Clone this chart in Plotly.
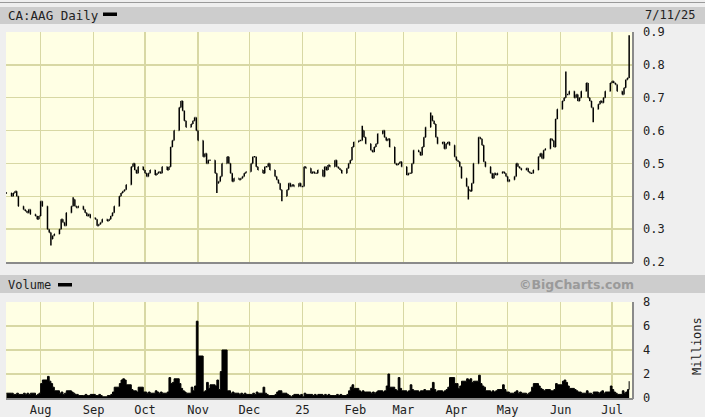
import pandas as pd
import plotly.graph_objects as go

# ---------------- data ----------------
close_jul24 = [0.41, 0.40, 0.41, 0.415, 0.40, 0.37, 0.36, 0.355, 0.35, 0.36, 0.345, 0.34, 0.33, 0.34]
close_aug24 = [0.385, 0.37, 0.30, 0.29, 0.27, 0.28, 0.285, 0.30, 0.33, 0.32, 0.31, 0.35, 0.37, 0.39,
               0.37, 0.365, 0.37, 0.36, 0.35, 0.34, 0.345, 0.335]
close_sep24 = [0.33, 0.31, 0.315, 0.32, 0.33, 0.325, 0.33, 0.34, 0.35, 0.37, 0.40, 0.41, 0.415, 0.42,
               0.435, 0.49, 0.50, 0.48, 0.47, 0.49, 0.48]
close_oct24 = [0.47, 0.46, 0.47, 0.48, 0.465, 0.47, 0.475, 0.47, 0.49, 0.48, 0.49, 0.55, 0.57, 0.60,
               0.67, 0.69, 0.66, 0.63, 0.61, 0.62, 0.63, 0.64, 0.60]
close_nov24 = [0.57, 0.52, 0.53, 0.50, 0.51, 0.51, 0.47, 0.44, 0.445, 0.46, 0.50, 0.52, 0.50, 0.47,
               0.445, 0.455, 0.45, 0.455, 0.46, 0.47, 0.475]
close_dec24 = [0.50, 0.52, 0.52, 0.49, 0.48, 0.47, 0.49, 0.49, 0.50, 0.48, 0.46, 0.45, 0.44, 0.42,
               0.40, 0.42, 0.44, 0.43, 0.435, 0.43, 0.44, 0.43]
close_jan25 = [0.43, 0.49, 0.485, 0.47, 0.475, 0.47, 0.47, 0.48, 0.46, 0.49, 0.48, 0.495, 0.49, 0.51,
               0.49, 0.485, 0.48, 0.47, 0.485, 0.50, 0.51, 0.55, 0.565]
close_feb25 = [0.57, 0.57, 0.60, 0.58, 0.56, 0.54, 0.535, 0.55, 0.56, 0.59, 0.60, 0.58, 0.57, 0.575,
               0.55, 0.50, 0.495, 0.50, 0.505, 0.49]
close_mar25 = [0.465, 0.47, 0.47, 0.50, 0.54, 0.535, 0.525, 0.55, 0.58, 0.61, 0.645, 0.63, 0.62, 0.58,
               0.56, 0.565, 0.545, 0.56, 0.565, 0.555, 0.52]
close_apr25 = [0.51, 0.505, 0.49, 0.455, 0.43, 0.42, 0.415, 0.44, 0.50, 0.58, 0.575, 0.555, 0.505, 0.49,
               0.47, 0.455, 0.47, 0.465, 0.47, 0.475, 0.47, 0.46]
close_may25 = [0.445, 0.45, 0.46, 0.50, 0.49, 0.485, 0.48, 0.485, 0.475, 0.47, 0.47, 0.48, 0.52, 0.53,
               0.515, 0.54, 0.545, 0.575, 0.57, 0.55, 0.635, 0.665]
close_jun25 = [0.69, 0.70, 0.71, 0.71, 0.72, 0.70, 0.71, 0.69, 0.70, 0.72, 0.745, 0.70, 0.69, 0.67,
               0.665, 0.68, 0.69, 0.685, 0.70, 0.72, 0.745]
close_jul25 = [0.75, 0.745, 0.74, 0.72, 0.71, 0.73, 0.755, 0.76, 0.88]

# intraday extremes visible beyond the open/close span
high_marks = {"2024-08-20": 0.397, "2024-10-22": 0.69, "2025-02-05": 0.615,
              "2025-03-17": 0.655, "2025-06-04": 0.78, "2025-07-11": 0.89}
low_marks = {"2024-08-07": 0.25, "2024-11-12": 0.41, "2024-12-20": 0.385,
             "2025-04-08": 0.39, "2025-06-20": 0.625}

# volume, millions of shares
vol_jul24 = [0.4, 0.4, 0.3, 0.3, 0.4, 0.3, 0.4, 0.3, 0.4, 0.3, 0.4, 0.2, 0.3, 0.4]
vol_aug24 = [1.2, 1.5, 1.8, 1.4, 1.2, 0.9, 0.6, 0.4, 0.5, 0.3, 0.4, 0.6, 0.5, 0.4, 0.3, 0.3, 0.2,
             0.2, 0.3, 0.2, 0.2, 0.3]
vol_sep24 = [0.2, 0.2, 0.3, 0.2, 0.1, 0.2, 0.2, 0.3, 0.5, 0.9, 1.2, 1.5, 1.6, 1.5, 1.1, 0.7, 0.6,
             0.6, 0.5, 0.9, 0.5]
vol_oct24 = [0.5, 0.4, 0.5, 0.4, 0.6, 0.5, 0.4, 0.5, 0.4, 0.5, 1.7, 1.2, 1.3, 1.6, 1.2, 0.8, 0.6,
             0.5, 0.4, 0.9, 0.6, 1.0, 6.4]
vol_nov24 = [3.5, 0.5, 0.6, 1.3, 0.8, 1.1, 1.0, 1.5, 0.7, 2.2, 4.0, 0.6, 0.6, 0.4, 0.5, 0.4, 0.3,
             0.4, 0.3, 0.4, 0.3]
vol_dec24 = [0.3, 0.4, 0.3, 0.5, 0.4, 0.9, 0.4, 0.3, 0.2, 0.2, 0.3, 0.5, 0.6, 0.6, 0.4, 0.3, 0.2,
             0.1, 0.2, 0.3, 0.2, 0.3]
vol_jan25 = [0.1, 0.4, 0.3, 0.3, 0.2, 0.3, 0.2, 0.3, 0.2, 0.3, 0.2, 0.3, 0.2, 0.2, 0.3, 0.2, 0.3,
             0.2, 0.3, 0.6, 0.9, 1.1, 0.8]
vol_feb25 = [0.6, 0.5, 0.6, 0.5, 0.5, 0.4, 0.5, 0.4, 0.5, 0.6, 0.5, 0.6, 1.0, 2.0, 0.9, 0.7, 0.6,
             1.7, 0.8, 0.6]
vol_mar25 = [0.5, 0.6, 1.1, 0.7, 0.6, 0.5, 0.6, 0.6, 0.7, 0.6, 0.8, 1.3, 0.7, 0.5, 0.6, 0.5, 0.6,
             0.7, 0.9, 1.7, 1.2]
vol_apr25 = [1.2, 0.8, 1.0, 1.4, 1.6, 1.5, 1.6, 1.3, 1.4, 1.9, 1.2, 1.0, 0.9, 0.6, 0.5, 0.6, 0.5,
             0.6, 0.7, 1.1, 0.7, 0.5]
vol_may25 = [0.5, 0.4, 0.5, 0.6, 0.4, 0.5, 0.4, 0.3, 0.4, 0.5, 0.9, 1.2, 1.0, 0.8, 0.7, 0.6, 0.7,
             0.6, 0.6, 0.7, 1.2, 1.1]
vol_jun25 = [1.4, 1.5, 1.3, 1.0, 0.8, 0.7, 0.6, 0.5, 0.5, 0.4, 0.6, 0.4, 0.4, 0.3, 0.5, 0.4, 0.5,
             0.6, 0.4, 0.5, 1.0]
vol_jul25 = [0.7, 0.5, 0.4, 0.3, 0.6, 0.4, 0.5, 0.7, 1.4]

month_ticks = ["2024-08-01", "2024-09-01", "2024-10-01", "2024-11-01", "2024-12-01", "2025-01-01",
               "2025-02-01", "2025-03-01", "2025-04-01", "2025-05-01", "2025-06-01", "2025-07-01"]
month_labels = ["Aug", "Sep", "Oct", "Nov", "Dec", "25", "Feb", "Mar", "Apr", "May", "Jun", "Jul"]
price_ticks = [0.2, 0.3, 0.4, 0.5, 0.6, 0.7, 0.8, 0.9]
vol_ticks = [0, 2, 4, 6, 8]

# ---------------- assemble ----------------
closes = (close_jul24 + close_aug24 + close_sep24 + close_oct24 + close_nov24 + close_dec24 +
          close_jan25 + close_feb25 + close_mar25 + close_apr25 + close_may25 + close_jun25 + close_jul25)
volumes = (vol_jul24 + vol_aug24 + vol_sep24 + vol_oct24 + vol_nov24 + vol_dec24 +
           vol_jan25 + vol_feb25 + vol_mar25 + vol_apr25 + vol_may25 + vol_jun25 + vol_jul25)
dates = pd.bdate_range("2024-07-12", "2025-07-11")
assert len(dates) == len(closes) == len(volumes), (len(dates), len(closes), len(volumes))

opens = [closes[0]] + closes[:-1]
highs, lows = [], []
for d, o, c in zip(dates, opens, closes):
    k = d.strftime("%Y-%m-%d")
    highs.append(max(o, c, high_marks.get(k, 0)))
    lows.append(min(o, c, low_marks.get(k, 9)))

W, H = 705, 417
def px(x):
    return x / W
def py(y):
    return 1 - y / H

X0, X1 = 6, 632
BG = "#efefef"
PLOT_BG = "#ffffe4"
GRID = "#d8d8a4"
BAND = "#cdcdcd"
MONO = "DejaVu Sans Mono"
TXT = "#222222"

fig = go.Figure()
fig.add_trace(go.Ohlc(
    x=dates, open=opens, high=highs, low=lows, close=closes,
    xaxis="x", yaxis="y",
    increasing=dict(line=dict(color="#000000", width=1.5)),
    decreasing=dict(line=dict(color="#000000", width=1.5)),
    tickwidth=0.35, hoverinfo="skip", showlegend=False))
fig.add_trace(go.Scatter(
    x=dates, y=volumes, xaxis="x2", yaxis="y2", mode="lines",
    line=dict(color="#000000", width=1, shape="hv"),
    fill="tozeroy", fillcolor="#000000", hoverinfo="skip", showlegend=False))

xrange = ["2024-07-11 18:00", "2025-07-12 16:00"]
common_x = dict(type="date", range=xrange, domain=[px(X0), px(X1)], tickvals=month_ticks,
                showgrid=True, gridcolor=GRID, gridwidth=1.5, zeroline=False, ticks="",
                showline=False, fixedrange=True, automargin=False)
tickfont = dict(family=MONO, size=12, color=TXT)

fig.update_layout(
    template="none",
    width=W, height=H, margin=dict(l=0, r=0, t=0, b=0, pad=0), autosize=False,
    paper_bgcolor=BG, plot_bgcolor=PLOT_BG, showlegend=False,
    xaxis=dict(**common_x, anchor="y", showticklabels=False, rangeslider=dict(visible=False)),
    yaxis=dict(domain=[py(262), py(32)], range=[0.2, 0.9], side="right", anchor="x",
               tickvals=price_ticks, ticktext=[f"{v:.1f}" for v in price_ticks],
               showgrid=True, gridcolor=GRID, gridwidth=1.5, zeroline=False, ticks="",
               ticklabelstandoff=10, tickfont=tickfont, fixedrange=True, automargin=False),
    xaxis2=dict(**common_x, anchor="y2", ticktext=month_labels, tickfont=tickfont,
                ticklabelstandoff=3),
    yaxis2=dict(domain=[py(398), py(302)], range=[0, 8], side="right", anchor="x2",
                tickvals=vol_ticks, ticktext=[str(v) for v in vol_ticks],
                showgrid=True, gridcolor=GRID, gridwidth=1.5, zeroline=False, ticks="",
                ticklabelstandoff=10, tickfont=tickfont, fixedrange=True, automargin=False),
)

shapes = [
    # header bands
    dict(type="rect", xref="paper", yref="paper", x0=0, x1=1, y0=py(24), y1=py(7),
         fillcolor=BAND, line=dict(width=0), layer="below"),
    dict(type="line", xref="paper", yref="paper", x0=0, x1=1, y0=py(2.5), y1=py(2.5),
         line=dict(color="#9a9a9a", width=1)),
    dict(type="rect", xref="paper", yref="paper", x0=0, x1=1, y0=py(293), y1=py(275),
         fillcolor=BAND, line=dict(width=0), layer="below"),
    # legend dashes
    dict(type="rect", xref="paper", yref="paper", x0=px(103), x1=px(117), y0=py(16), y1=py(12.5),
         fillcolor="#000000", line=dict(width=0)),
    dict(type="rect", xref="paper", yref="paper", x0=px(58), x1=px(72), y0=py(286.5), y1=py(283),
         fillcolor="#000000", line=dict(width=0)),
    # plot frames (right / bottom darker)
    dict(type="line", xref="paper", yref="paper", x0=px(X0), x1=px(X1 + 1), y0=py(263), y1=py(263),
         line=dict(color="#8a8a8a", width=2)),
    dict(type="line", xref="paper", yref="paper", x0=px(X1 + 1), x1=px(X1 + 1), y0=py(263), y1=py(32),
         line=dict(color="#8a8a8a", width=2)),
    dict(type="line", xref="paper", yref="paper", x0=px(X0), x1=px(X1 + 1), y0=py(399), y1=py(399),
         line=dict(color="#8a8a8a", width=2)),
    dict(type="line", xref="paper", yref="paper", x0=px(X1 + 1), x1=px(X1 + 1), y0=py(399), y1=py(302),
         line=dict(color="#8a8a8a", width=2)),
]
fig.update_layout(shapes=shapes)

ann = [
    dict(text="CA:AAG Daily", x=px(6), y=py(15), xanchor="left", yanchor="middle",
         font=dict(family=MONO, size=12.5, color=TXT)),
    dict(text="7/11/25", x=px(643), y=py(15), xanchor="left", yanchor="middle",
         font=dict(family=MONO, size=12, color=TXT)),
    dict(text="Volume", x=px(6), y=py(285), xanchor="left", yanchor="middle",
         font=dict(family=MONO, size=12, color=TXT)),
    dict(text="<b>©BigCharts.com</b>", x=px(576), y=py(284.5), xanchor="center", yanchor="middle",
         font=dict(family="DejaVu Sans", size=12.5, color="#9a9a9a")),
    dict(text="Millions", x=px(697), y=py(346), xanchor="center", yanchor="middle", textangle=-90,
         font=dict(family=MONO, size=12, color=TXT)),
]
for a in ann:
    a.update(xref="paper", yref="paper", showarrow=False)
fig.update_layout(annotations=ann)

fig.write_html("out.html",
               config={"displayModeBar": False, "staticPlot": True},
               post_script="document.body.style.margin='0';document.body.style.overflow='hidden';")
